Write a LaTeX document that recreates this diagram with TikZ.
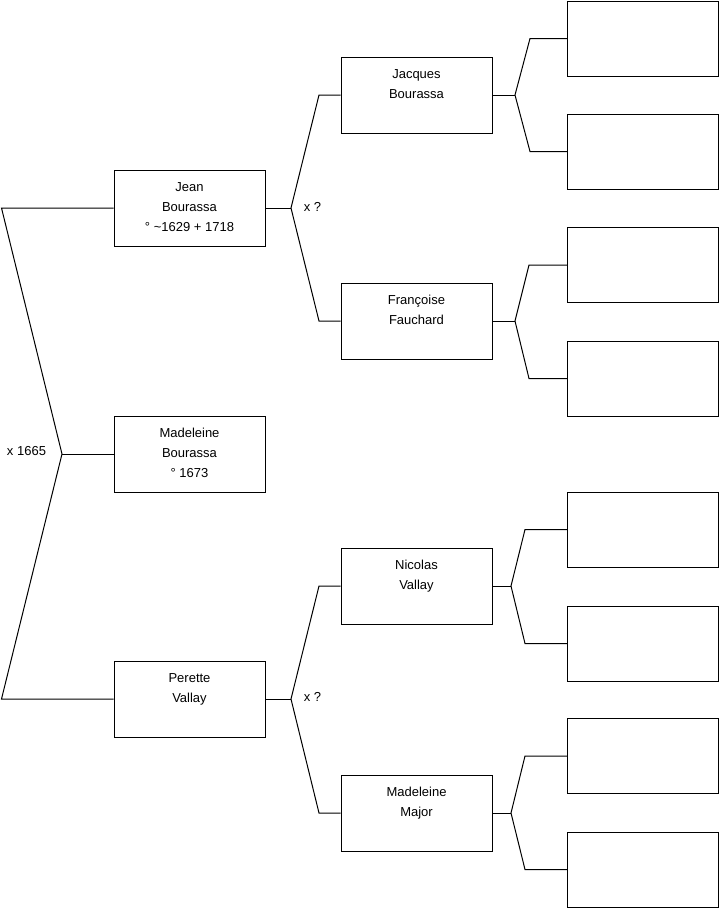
\documentclass[tikz,border=0pt]{standalone}
\usepackage{fontspec}
\setmainfont{Liberation Sans}
\begin{document}
\begin{tikzpicture}[x=1pt,y=-1pt,line width=1pt,
  pbox/.style={draw=black,fill=white,minimum width=151pt,minimum height=76pt,inner sep=0pt},
  ebox/.style={draw=black,fill=white,minimum width=151pt,minimum height=75pt,inner sep=0pt},
  ptext/.style={anchor=base,inner sep=0pt,font=\fontsize{13}{15}\selectfont},
  lbl/.style={inner sep=0pt,font=\fontsize{13}{15}\selectfont},
  link/.style={draw=black,line width=1pt}]
\useasboundingbox (0,0) rectangle (719,908);
\newcommand{\person}[6]{%
  \node[pbox] (#1) at (#2,#3) {};
  \node[ptext] (#1-a) at (#2,{#3-17}) {#4};
  \node[ptext] (#1-b) at (#2,{#3+3}) {#5};
  \node[ptext] (#1-c) at (#2,{#3+23}) {#6};}
% generation 1
\person{jean}{189.5}{208}{Jean}{Bourassa}{° \textasciitilde1629 + 1718}
\person{mad}{189.5}{454}{Madeleine}{Bourassa}{° 1673}
\person{perette}{189.5}{699}{Perette}{Vallay}{}
% generation 2
\person{jacques}{416.5}{95}{Jacques}{Bourassa}{}
\person{francoise}{416.5}{321}{Françoise}{Fauchard}{}
\person{nicolas}{416.5}{586}{Nicolas}{Vallay}{}
\person{major}{416.5}{813}{Madeleine}{Major}{}
% generation 3 (empty)
\node[ebox] (e1) at (643,38.5) {};
\node[ebox] (e2) at (643,151.5) {};
\node[ebox] (e3) at (643,265) {};
\node[ebox] (e4) at (643,378.5) {};
\node[ebox] (e5) at (643,529.5) {};
\node[ebox] (e6) at (643,643.5) {};
\node[ebox] (e7) at (643,756) {};
\node[ebox] (e8) at (643,869.5) {};
% fork coordinates
\coordinate (v0) at (62,454);
\coordinate (t0) at (1.5,208);
\coordinate (b0) at (1.5,699);
\coordinate (v1) at (291,208);
\coordinate (t1) at (319,95);
\coordinate (b1) at (319,321);
\coordinate (v2) at (291,699);
\coordinate (t2) at (319,586);
\coordinate (b2) at (319,813);
\coordinate (v3) at (515,95);
\coordinate (t3) at (530,38.5);
\coordinate (b3) at (530,151.5);
\coordinate (v4) at (515,321);
\coordinate (t4) at (529,265);
\coordinate (b4) at (529,378.5);
\coordinate (v5) at (511,586);
\coordinate (t5) at (525,529.5);
\coordinate (b5) at (525,643.5);
\coordinate (v6) at (511,813);
\coordinate (t6) at (525,756);
\coordinate (b6) at (525,869.5);
% connectors
\draw[link] (jean.west) -- (t0) -- (v0) -- (b0) -- (perette.west);
\draw[link] (v0) -- (mad.west);
\draw[link] (jean.east) -- (v1);
\draw[link] (jacques.west) -- (t1) -- (v1) -- (b1) -- (francoise.west);
\draw[link] (perette.east) -- (v2);
\draw[link] (nicolas.west) -- (t2) -- (v2) -- (b2) -- (major.west);
\draw[link] (jacques.east) -- (v3);
\draw[link] (e1.west) -- (t3) -- (v3) -- (b3) -- (e2.west);
\draw[link] (francoise.east) -- (v4);
\draw[link] (e3.west) -- (t4) -- (v4) -- (b4) -- (e4.west);
\draw[link] (nicolas.east) -- (v5);
\draw[link] (e5.west) -- (t5) -- (v5) -- (b5) -- (e6.west);
\draw[link] (major.east) -- (v6);
\draw[link] (e7.west) -- (t6) -- (v6) -- (b6) -- (e8.west);
% marriage labels
\node[lbl] (m0) at (26.5,451) {x 1665};
\node[lbl] (m1) at (312.5,207) {x ?};
\node[lbl] (m2) at (312.5,697) {x ?};
\end{tikzpicture}
\end{document}
